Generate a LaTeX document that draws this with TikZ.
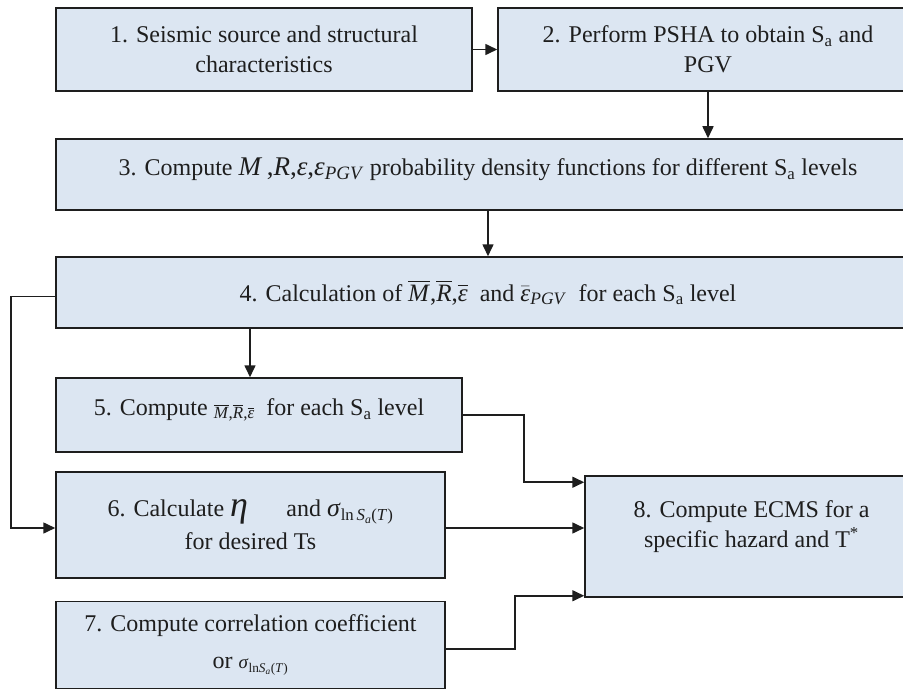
\documentclass[tikz,border=0pt]{standalone}
\usepackage{fontspec}
\usepackage{amsmath}
\setmainfont{Liberation Serif}
\usetikzlibrary{arrows.meta,calc}
\definecolor{boxfill}{RGB}{220,230,242}
\definecolor{ink}{RGB}{30,30,30}
\newcommand{\Sa}{S\textsubscript{a}}
\newcommand{\ovl}[1]{$\overline{\mbox{\textit{#1}}}$}
\newcommand{\lift}[2]{\raisebox{#1}[\height][\depth]{#2}}
\begin{document}
\begin{tikzpicture}[x=1pt,y=-1pt,
  box/.style={draw=ink, line width=1.5pt, fill=boxfill, align=center, inner sep=0pt, text=ink},
  arr/.style={draw=ink, line width=1.6pt, -{Triangle[length=12pt,width=11pt]}},
  font=\fontsize{24}{30}\selectfont]
\useasboundingbox (0,0) rectangle (903,690);
\fill[white] (0,0) rectangle (903,690);
\node[box, minimum width=416pt, minimum height=83pt] (b1) at (264,49.5)
  {1. Seismic source and structural\\characteristics};
\node[box, minimum width=420pt, minimum height=83pt] (b2) at (708,49.5)
  {2. Perform PSHA to obtain \Sa{} and\\PGV};
\node[box, minimum width=864pt, minimum height=71pt] (b3) at (488,174.5)
  {\lift{5pt}{3. Compute {\fontsize{27}{30}\selectfont\textit{M}\,,\textit{R},\textit{ε},\textit{ε}\textsubscript{\textit{PGV}}} probability density functions for different \Sa{} levels}};
\node[box, minimum width=864pt, minimum height=71pt] (b4) at (488,292.5)
  {4. Calculation of {\fontsize{25}{30}\selectfont\ovl{M},\ovl{R},\ovl{ε}}\ \ and\ {\fontsize{25}{30}\selectfont$\bar{\mbox{\textit{ε}}}$\textsubscript{\textit{PGV}}}\ \ for each \Sa{} level};
\node[box, minimum width=406pt, minimum height=74pt] (b5) at (259,415)
  {\lift{5pt}{5. Compute {\fontsize{17}{20}\selectfont\raisebox{-3pt}{\ovl{M},\ovl{R},\ovl{ε}}}\ \ for each \Sa{} level}};
\node[box, minimum width=389pt, minimum height=106pt] (b6) at (250.5,525)
  {6. Calculate {\fontsize{36}{30}\selectfont\textit{η}}\hspace{1.6em}and {\fontsize{26}{30}\selectfont\textit{σ}}\textsubscript{ln\,\textit{S}\textsubscript{\textit{a}}(\textit{T})}\\[3pt]for desired Ts};
\node[box, minimum width=389pt, minimum height=87pt] (b7) at (250.5,645)
  {7. Compute correlation coefficient\\[7pt]or {\fontsize{19}{30}\selectfont\textit{σ}\textsubscript{ln\textit{S}\textsubscript{\textit{a}}(\textit{T})}}};
\node[box, minimum width=333pt, minimum height=121pt] (b8) at (751.5,536.5)
  {\lift{10pt}{\begin{tabular}{@{}c@{}}8. Compute ECMS for a\\specific hazard and T\textsuperscript{*}\end{tabular}}};
\draw[arr] (b1.east) -- (b2.west);
\draw[arr] (b2.south) -- (b2.south |- b3.north);
\draw[arr] (b3.south) -- (b4.north);
\draw[arr] ([xshift=-9pt]b5.north |- b4.south) -- ([xshift=-9pt]b5.north);
\draw[arr] ([yshift=-4pt]b4.west) -- ++(-44,0) |- ([yshift=-3pt]b6.west);
\draw[arr] (b5.east) -- ++(61,0) |- ([yshift=-7pt]b8.north west);
\draw[arr] ([yshift=-3pt]b6.east) -- ([yshift=-3pt]b6.east -| b8.west);
\draw[arr] ([yshift=-4pt]b7.east) -- ++(69,0) |- ([yshift=2pt]b8.south west);
\end{tikzpicture}
\end{document}
